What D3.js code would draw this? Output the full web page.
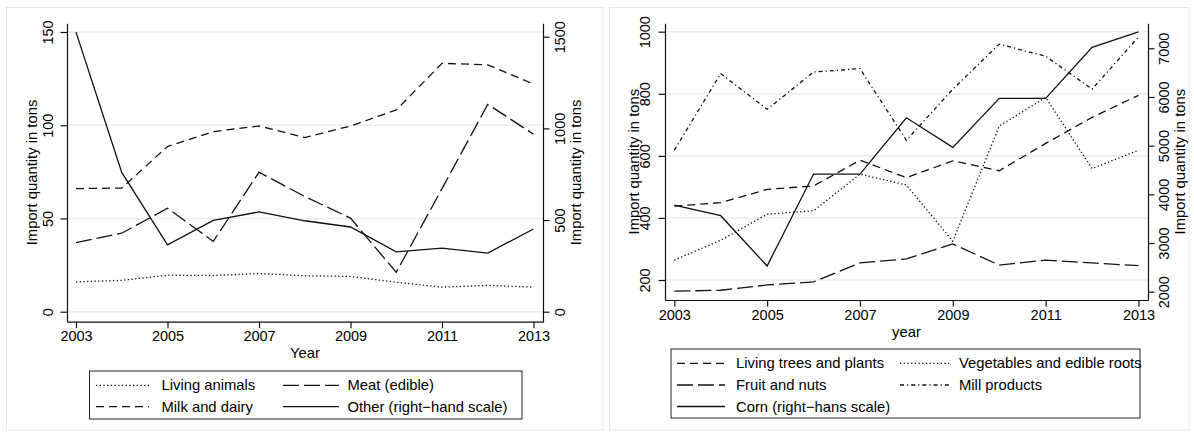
<!DOCTYPE html>
<html>
<head>
<meta charset="utf-8">
<script src="https://cdn.jsdelivr.net/npm/d3@7"></script>
<style>
  body { margin: 0; background: #fff; }
  svg text { font-family: "Liberation Sans", Arial, Helvetica, sans-serif; fill: #000; }
</style>
</head>
<body>
<script>
// ---- data ----
const years = [2003, 2004, 2005, 2006, 2007, 2008, 2009, 2010, 2011, 2012, 2013];
const yearTicks = [2003, 2005, 2007, 2009, 2011, 2013];

// left graph (tons)
const livingAnimals = [16, 16.8, 19.6, 19.4, 20.5, 19.3, 18.9, 15.8, 13.2, 14.1, 13.2];
const meatEdible    = [37.1, 42.1, 55.5, 37.7, 74.8, 61.8, 50.2, 21.1, 66, 111.2, 95.2];
const milkDairy     = [66, 66.3, 88.6, 96.6, 99.6, 93.4, 99.6, 108.2, 133.2, 132.4, 122.1];
const otherRight    = [1525, 760, 365, 498, 544, 496, 462, 326, 347, 320, 451];
const leftTicksA  = [0, 50, 100, 150];
const leftTicksB  = [0, 500, 1000, 1500];

// right graph (tons)
const livingTrees  = [438, 449, 492, 503, 586, 530, 584, 552, 640, 724, 795];
const fruitNuts    = [164, 167, 184, 194, 255, 268, 316, 248, 264, 255, 246];
const vegetables   = [264, 328, 412, 423, 541, 506, 325, 696, 788, 559, 618];
const millProducts = [618, 865, 750, 870, 881, 650, 815, 960, 921, 815, 983];
const cornRight    = [3780, 3561, 2528, 4417, 4417, 5573, 4965, 5971, 5971, 7018, 7339];
const rightTicksA  = [200, 400, 600, 800, 1000];
const rightTicksB  = [2000, 3000, 4000, 5000, 6000, 7000];

// line patterns
const DOT = "1.3,2.4", SHORT = "8,5", LONG = "16,5", DASHDOT = "4,3,1.2,3", SOLID = null;

const svg = d3.select("body").append("svg")
  .attr("width", 1194)
  .attr("height", 434);

function drawPanel(p) {
  const g = svg.append("g");

  // outer frame
  g.append("rect")
    .attr("x", p.frame[0]).attr("y", p.frame[1])
    .attr("width", p.frame[2] - p.frame[0]).attr("height", p.frame[3] - p.frame[1])
    .style("fill", "none").style("stroke", "#e2e9ec").style("stroke-width", 1);

  const x = d3.scaleLinear().domain([2003, 2013]).range(p.xRange);
  const yL = d3.scaleLinear().domain(p.leftDomain).range(p.leftRange);
  const yR = d3.scaleLinear().domain(p.rightDomain).range(p.rightRange);

  // axis scales stretched so the axis lines run the full plot region
  const xAx = x.copy().domain([x.invert(p.axisL), x.invert(p.axisR)]).range([p.axisL, p.axisR]);
  const yLAx = yL.copy().domain([yL.invert(p.bottom), yL.invert(p.top)]).range([p.bottom, p.top]);
  const yRAx = yR.copy().domain([yR.invert(p.bottom), yR.invert(p.top)]).range([p.bottom, p.top]);

  // gridlines
  g.selectAll(".grid")
    .data(p.leftTicks)
    .enter()
    .append("line")
    .attr("x1", p.axisL).attr("x2", p.axisR)
    .attr("y1", d => yL(d)).attr("y2", d => yL(d))
    .style("stroke", "#e6eef0").style("stroke-width", 1.6);

  const fmt = d3.format("d");

  // left axis
  const ga = g.append("g")
    .attr("transform", "translate(" + p.axisL + ",0)")
    .call(d3.axisLeft(yLAx).tickValues(p.leftTicks).tickFormat(fmt).tickSize(6.5).tickSizeOuter(0));
  ga.selectAll("text")
    .attr("x", null).attr("dy", "0.35em")
    .attr("text-anchor", "middle")
    .attr("transform", "translate(" + (p.leftLabelX - p.axisL) + ",0) rotate(-90)")
    .style("font-size", "14.5px");

  // right axis
  const gr = g.append("g")
    .attr("transform", "translate(" + p.axisR + ",0)")
    .call(d3.axisRight(yRAx).tickValues(p.rightTicks).tickFormat(fmt).tickSize(6.5).tickSizeOuter(0));
  gr.selectAll("text")
    .attr("x", null).attr("dy", "0.35em")
    .attr("text-anchor", "middle")
    .attr("transform", "translate(" + (p.rightLabelX - p.axisR) + ",0) rotate(-90)")
    .style("font-size", "14.5px");

  // bottom axis
  const gb = g.append("g")
    .attr("transform", "translate(0," + p.bottom + ")")
    .call(d3.axisBottom(xAx).tickValues(yearTicks).tickFormat(fmt).tickSize(6.5).tickSizeOuter(0));
  gb.selectAll("text")
    .attr("y", p.xLabelY - p.bottom).attr("dy", null)
    .style("font-size", "14.5px");

  [ga, gr, gb].forEach(a => {
    a.selectAll("path, line").style("stroke", "#111").style("stroke-width", 1.2);
    a.select(".domain").style("fill", "none");
  });

  // axis titles
  g.append("text")
    .attr("transform", "translate(" + p.leftTitleX + "," + (p.top + p.bottom) / 2 + ") rotate(-90)")
    .attr("dy", "0.35em")
    .style("text-anchor", "middle").style("font-size", "14.8px")
    .text("Import quantity in tons");
  g.append("text")
    .attr("transform", "translate(" + p.rightTitleX + "," + (p.top + p.bottom) / 2 + ") rotate(-90)")
    .attr("dy", "0.35em")
    .style("text-anchor", "middle").style("font-size", "14.8px")
    .text("Import quantity in tons");
  g.append("text")
    .attr("x", (p.axisL + p.axisR) / 2).attr("y", p.xTitleY)
    .style("text-anchor", "middle").style("font-size", "14.8px")
    .text(p.xTitle);

  // series
  p.series.forEach(s => {
    const ys = s.right ? yR : yL;
    const line = d3.line()
      .x((d, i) => x(years[i]))
      .y(d => ys(d));
    g.append("path")
      .datum(s.values)
      .attr("d", line)
      .style("fill", "none")
      .style("stroke", "#111")
      .style("stroke-width", 1.3)
      .style("stroke-dasharray", s.dash);
  });

  // legend
  const lb = p.legend.box;
  g.append("rect")
    .attr("x", lb[0]).attr("y", lb[1])
    .attr("width", lb[2] - lb[0]).attr("height", lb[3] - lb[1])
    .style("fill", "#fff").style("stroke", "#222").style("stroke-width", 1);
  p.series.forEach(s => {
    const col = p.legend.cols[s.col];
    const yy = p.legend.rows[s.row];
    g.append("line")
      .attr("x1", col[0]).attr("x2", col[1])
      .attr("y1", yy).attr("y2", yy)
      .style("stroke", "#111").style("stroke-width", 1.3)
      .style("stroke-dasharray", s.dash);
    g.append("text")
      .attr("x", col[2]).attr("y", yy).attr("dy", "0.35em")
      .style("font-size", "14.8px")
      .text(s.name);
  });
}

drawPanel({
  frame: [6.5, 7.5, 603, 430],
  axisL: 67, axisR: 543, top: 23.3, bottom: 321.7,
  xRange: [76, 533.5],
  leftDomain: [0, 150], leftRange: [311.7, 32],
  rightDomain: [0, 1500], rightRange: [311.7, 36.7],
  leftTicks: leftTicksA, rightTicks: leftTicksB,
  leftLabelX: 48.3, leftTitleX: 31.7, rightLabelX: 560, rightTitleX: 576,
  xLabelY: 341, xTitleY: 358, xTitle: "Year",
  legend: { box: [89.5, 371, 522, 419], rows: [385.3, 406.7],
            cols: [[96, 149, 161.5], [283, 339, 347.5]] },
  series: [
    { name: "Living animals", values: livingAnimals, dash: DOT, row: 0, col: 0 },
    { name: "Meat (edible)", values: meatEdible, dash: LONG, row: 0, col: 1 },
    { name: "Milk and dairy", values: milkDairy, dash: SHORT, row: 1, col: 0 },
    { name: "Other (right\u2212hand scale)", values: otherRight, dash: SOLID, right: true, row: 1, col: 1 }
  ]
});

drawPanel({
  frame: [609.5, 7.5, 1189, 430],
  axisL: 665, axisR: 1148, top: 23.3, bottom: 300,
  xRange: [674.3, 1138.5],
  leftDomain: [200, 1000], leftRange: [280, 31.7],
  rightDomain: [2000, 7000], rightRange: [291.7, 48.3],
  leftTicks: rightTicksA, rightTicks: rightTicksB,
  leftLabelX: 645, leftTitleX: 634, rightLabelX: 1164, rightTitleX: 1180,
  xLabelY: 320, xTitleY: 337, xTitle: "year",
  legend: { box: [671, 349, 1140, 418], rows: [363.3, 385, 406.5],
            cols: [[677, 725, 736], [900, 949, 959]] },
  series: [
    { name: "Living trees and plants", values: livingTrees, dash: SHORT, row: 0, col: 0 },
    { name: "Vegetables and edible roots", values: vegetables, dash: DOT, row: 0, col: 1 },
    { name: "Fruit and nuts", values: fruitNuts, dash: LONG, row: 1, col: 0 },
    { name: "Mill products", values: millProducts, dash: DASHDOT, row: 1, col: 1 },
    { name: "Corn (right\u2212hans scale)", values: cornRight, dash: SOLID, right: true, row: 2, col: 0 }
  ]
});
</script>
</body>
</html>
